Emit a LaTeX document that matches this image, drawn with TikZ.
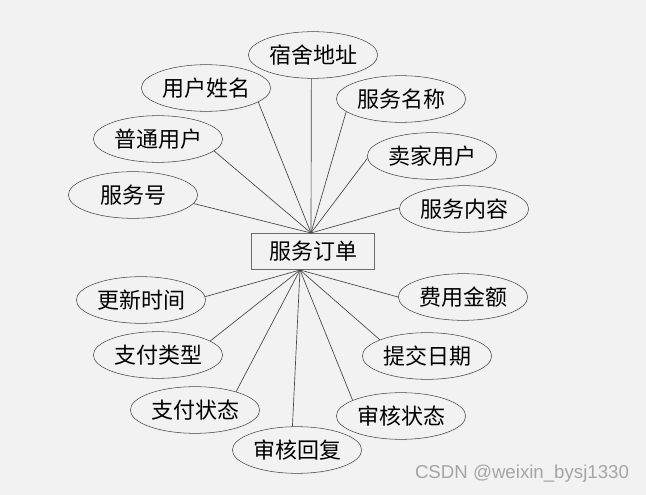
\documentclass[tikz,border=0pt]{standalone}
\usepackage{fontspec}
\usepackage{tikz}
\usetikzlibrary{shapes.geometric, positioning, calc, shadows}
\newfontfamily\cjk{Noto Sans CJK SC}
\newfontfamily\markfont{Liberation Sans}
\definecolor{erbg}{RGB}{242, 242, 242}
\definecolor{erline}{RGB}{70, 70, 70}
\definecolor{ermark}{RGB}{165, 165, 165}
\tikzset{
    attr/.style={ellipse, draw=erline, fill=erbg, minimum width=97pt, minimum height=35pt, inner sep=0pt, font=\cjk\fontsize{16.5}{19}\selectfont, drop shadow={shadow xshift=0.6pt, shadow yshift=-0.6pt, fill=black!12}},
    entity/.style={rectangle, draw=erline!80, fill=erbg, minimum width=92pt, minimum height=27pt, inner sep=0pt, font=\cjk\fontsize{16.5}{19}\selectfont, drop shadow={shadow xshift=0.6pt, shadow yshift=-0.6pt, fill=black!12}},
    link/.style={draw=erline, line width=0.5pt}
}
\begin{document}
\begin{tikzpicture}[x=0.75pt, y=-0.75pt]
    \fill[erbg] (0,0) rectangle (646,495);
    \useasboundingbox (0,0) rectangle (646,495);

    % --- ENTITY ---
    \node[entity] (order) at (313,251) {服务订单};
    \coordinate (top) at (311,233);
    \coordinate (bot) at (300,270);

    % --- ATTRIBUTES ABOVE ---
    \node[attr] (addr)   at (313,55)  {宿舍地址};
    \node[attr] (uname)  at (206,88)  {用户姓名};
    \node[attr] (sname)  at (401,99)  {服务名称};
    \node[attr] (user)   at (158,139) {普通用户};
    \node[attr] (seller) at (432,156) {卖家用户};
    \node[attr] (sid)    at (133,195) {服务号};
    \node[attr] (scont)  at (464,209) {服务内容};

    % --- ATTRIBUTES BELOW ---
    \node[attr] (utime)  at (141,300) {更新时间};
    \node[attr] (fee)    at (463,297) {费用金额};
    \node[attr] (ptype)  at (158,355) {支付类型};
    \node[attr] (sdate)  at (427,356) {提交日期};
    \node[attr] (pstat)  at (195,410) {支付状态};
    \node[attr] (astat)  at (401,416) {审核状态};
    \node[attr] (reply)  at (297,450) {审核回复};

    % Connectors (node/border angle)
    \foreach \n/\a in {addr/-94, uname/-15, sname/193, user/-12, seller/182, sid/-8, scont/179}
        \draw[link] (top) -- (\n.\a);
    \foreach \n/\a in {utime/3, fee/180, ptype/15, sdate/161, pstat/24, astat/162, reply/101}
        \draw[link] (bot) -- (\n.\a);

    % Watermark
    \node[font=\markfont\fontsize{14}{16}\selectfont, text=ermark] (mark) at (522,474) {CSDN @weixin\_bysj1330};
\end{tikzpicture}
\end{document}
